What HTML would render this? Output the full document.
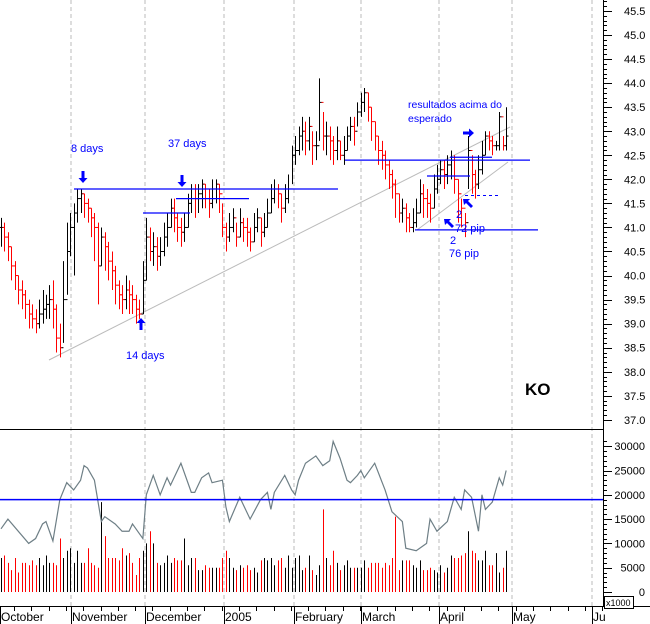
<!DOCTYPE html>
<html><head><meta charset="utf-8"><style>
html,body{margin:0;padding:0;background:#fff}
svg{display:block;font-family:"Liberation Sans",sans-serif}
</style></head><body>
<svg id="c" width="650" height="624" viewBox="0 0 650 624"></svg>
<script>
const closes=[41.0,40.8,40.6,40.2,40.0,39.7,39.6,39.4,39.2,39.1,39.0,39.2,39.3,39.4,39.5,39.3,38.7,38.5,39.5,40.5,41.0,
41.3,41.6,41.7,41.5,41.4,41.2,41.0,40.2,40.8,40.6,40.3,40.1,39.8,39.6,39.5,39.7,39.6,39.5,39.3,39.2,39.9,
40.8,40.5,40.6,40.4,40.5,40.8,41.0,41.4,41.2,41.0,40.9,41.0,41.5,41.8,41.6,41.7,41.9,41.8,41.5,41.8,41.9,41.7,
41.0,40.8,41.0,41.2,40.8,41.1,41.0,40.9,40.7,41.0,41.2,40.9,41.0,41.3,41.6,41.8,41.7,41.4,41.6,41.8,
42.5,42.6,42.9,43.0,42.8,43.1,42.7,42.7,43.6,42.9,42.9,42.8,42.6,42.8,42.5,42.6,42.9,43.1,43.0,
43.4,43.6,43.8,43.5,43.2,42.9,42.6,42.5,42.3,42.1,41.9,41.7,41.3,41.4,41.2,41.0,41.1,41.3,41.7,41.6,41.5,41.4,
41.8,42.0,42.2,42.1,42.3,42.4,42.0,41.7,41.4,41.1,42.6,42.1,41.9,42.2,42.5,42.9,42.8,42.7,42.7,43.3,42.7,42.9];
const highs=[41.2,41.1,40.9,40.6,40.3,40.0,39.9,39.7,39.5,39.4,39.3,39.5,39.7,39.6,39.8,39.9,39.4,39.0,40.3,41.1,41.3,
41.5,41.8,41.8,41.7,41.6,41.4,41.3,41.1,41.0,40.9,40.7,40.5,40.2,39.9,39.8,40.0,39.9,39.8,39.6,39.5,40.3,
41.2,41.0,40.9,40.8,40.8,41.1,41.3,41.6,41.6,41.3,41.2,41.3,41.7,41.9,41.9,41.9,42.0,41.9,41.8,42.0,42.0,41.9,
41.5,41.1,41.3,41.4,41.1,41.4,41.2,41.2,41.0,41.3,41.4,41.2,41.3,41.6,41.9,42.0,41.9,41.7,41.9,42.1,
42.7,42.9,43.1,43.3,43.2,43.3,43.0,43.0,44.1,43.4,43.2,43.1,42.9,43.1,42.8,42.9,43.1,43.3,43.3,
43.6,43.8,43.9,43.8,43.5,43.2,42.9,42.8,42.6,42.4,42.2,42.0,41.7,41.6,41.5,41.3,41.4,41.6,42.0,41.9,41.8,41.7,
42.1,42.3,42.4,42.4,42.5,42.6,42.5,42.0,41.6,41.3,42.9,42.5,42.2,42.5,42.8,43.0,43.0,42.9,42.8,43.4,42.9,43.5];
const lows=[40.6,40.5,40.3,39.9,39.7,39.4,39.3,39.1,38.9,38.9,38.8,38.9,39.0,39.1,39.1,38.9,38.4,38.3,38.6,39.6,40.4,
40.0,41.1,41.3,41.2,41.1,40.8,40.3,39.4,40.2,40.1,39.9,39.7,39.4,39.3,39.2,39.3,39.2,39.2,39.0,39.1,39.2,
39.9,40.3,40.2,40.1,40.2,40.4,40.6,41.0,40.9,40.7,40.6,40.7,41.0,41.3,41.2,41.3,41.4,41.4,41.2,41.4,41.5,41.3,
40.8,40.5,40.7,40.9,40.6,40.8,40.7,40.6,40.5,40.7,40.9,40.6,40.8,41.0,41.3,41.5,41.4,41.1,41.3,41.5,
41.9,42.3,42.5,42.6,42.5,42.6,42.3,42.4,42.8,42.6,42.5,42.4,42.3,42.4,42.4,42.3,42.6,42.8,42.7,
43.1,43.3,43.4,43.2,42.8,42.6,42.3,42.2,42.0,41.8,41.6,41.2,41.1,41.1,40.9,40.9,40.9,41.0,41.3,41.2,41.2,41.1,
41.4,41.7,41.9,41.8,41.9,42.0,41.7,41.1,41.0,40.8,41.8,41.7,41.6,41.8,42.1,42.5,42.6,42.5,42.6,42.6,42.6,42.6];
const volumes=[7,7.5,6,4.5,7,4,6,6,5.5,6.5,5.5,7,5.5,7.5,6,6,5.5,11,7,8.5,9,
6,8.5,6,6,9,6,5.5,5,18.5,11.5,7,7,7,6.5,9,7.5,8,6,3.5,7,8.5,
10,12.5,10,6,5.5,6,7.5,6,7,6.5,6.5,11,5.5,7,7,4.5,4.5,5.5,5,5,5,5,
7,8.5,7,5,4.5,5.5,5,5.5,4.5,5,4,6.5,7,6.5,7,5.5,6.5,7,5,7.5,
5,7,7.5,4.5,5,7.5,4.5,3.5,5.5,17,7,5.5,8.5,6,4.5,5.5,6.5,5,5,
5,5,6.5,5,6,6,6,5,6,5.5,7,15.5,4.5,6.5,6.5,6.5,5.5,5,6.5,4.5,4.5,5,
4.5,4,5.5,4,5,7.5,7,7,7.5,8,12.5,8.5,8,6.5,6.5,8.5,5.5,5.5,8,4,5,8.5];
const lineIdx=[0,2,8,10,12,13,15,17,19,21,23,24,25,27,29,30,33,35,37,38,41,42,44,46,48,49,52,55,56,58,60,61,64,65,66,69,72,75,77,78,79,82,84,85,86,88,91,93,95,96,98,100,101,103,104,105,108,111,113,116,117,120,123,124,126,129,131,133,134,136,138,139,140,142,144,145,146];
const lineVal=[13,15,10,11,14,14.5,10.5,19,22.5,21,23,26,25.5,23,14.5,15.5,14,12.5,12.5,14,11,20,24,20,23.5,22,26.5,20.5,20.5,23.5,24.5,22.5,23,17.5,14.5,19.5,15,19,20.5,17,20.5,24,21,20,23,26.5,28,26,27,31,27.5,23,22.5,24,25,23.5,26.5,21,16.5,14.5,9,8.5,10,15,12.5,14.5,19.5,17,21,19.5,12.5,20,17,18.5,23.5,22,25];
const priceTicks=[45.5,45.0,44.5,44.0,43.5,43.0,42.5,42.0,41.5,41.0,40.5,40.0,39.5,39.0,38.5,38.0,37.5,37.0];
const volTicks=[0,5000,10000,15000,20000,25000,30000];
const months=["October","November","December","2005","February","March","April","May","Ju"];
const monthX=[0,71,145,224,294,361,439,512,592];

const NS="http://www.w3.org/2000/svg";const svg=document.getElementById('c');
function el(t,a,p){const e=document.createElementNS(NS,t);for(const k in a)e.setAttribute(k,a[k]);(p||svg).appendChild(e);return e;}
const x=i=>1+i*3.46;
const yP=p=>11+(45.5-p)*48.1;
const yV=v=>592-v*4.86;
monthX.slice(1).forEach(mx=>{const g=el('line',{x1:mx,x2:mx,y1:0,y2:606,stroke:'#bbb','stroke-dasharray':'4,3'});

});
el('line',{x1:603.5,x2:603.5,y1:0,y2:606,stroke:'#000'});
el('line',{x1:0,x2:603,y1:429.5,y2:429.5,stroke:'#000'});
el('line',{x1:0,x2:650,y1:606.5,y2:606.5,stroke:'#000'});
for(let p=37;p<=45.9;p+=0.1){const yy=Math.round(yP(p))+0.5;el('line',{x1:603,x2:(Math.round(p*10)%5==0)?612:607,y1:yy,y2:yy,stroke:'#000'});}
priceTicks.forEach(p=>{const t=el('text',{x:624,y:yP(p)+4,'font-size':11});t.textContent=p.toFixed(1);

});
for(let v=0;v<=31;v+=1){const yy=Math.round(yV(v))+0.5;el('line',{x1:603,x2:(v%5==0)?612:607,y1:yy,y2:yy,stroke:'#000'});}
volTicks.forEach(v=>{const t=el('text',{x:645,y:yV(v/1000)+4,'font-size':11,'text-anchor':'end'});t.textContent=v;

});
el('rect',{x:604.5,y:596.5,width:29,height:12,fill:'#fff',stroke:'#000'});
const xk=el('text',{x:606,y:606,'font-size':9});xk.textContent='x1000';
months.forEach((m,i)=>{el('line',{x1:monthX[i]+0.5,x2:monthX[i]+0.5,y1:606,y2:624,stroke:'#000'});
const t=el('text',{x:monthX[i]+1,y:621,'font-size':12});t.textContent=m;

});
for(let wx=14;wx<603;wx+=17.3){el('line',{x1:Math.round(wx)+0.5,x2:Math.round(wx)+0.5,y1:606,y2:611,stroke:'#000'});}
el('line',{x1:49,y1:360,x2:510,y2:127,stroke:'#bbb'});
el('line',{x1:417,y1:230,x2:508,y2:162,stroke:'#bbb'});
const colors=closes.map((c,i)=>i==0||c>=closes[i-1]?'#000':'#f00');
closes.forEach((c,i)=>{
 const xx=Math.round(x(i))+0.5,col=colors[i];
 const v=el('line',{x1:xx,x2:xx,y1:yV(volumes[i]),y2:592,stroke:col});
 
 
 const g=el('g',{stroke:col,'stroke-width':1});
 
 
 el('line',{x1:xx,x2:xx,y1:yP(highs[i]),y2:yP(lows[i])},g);
 const o=i?closes[i-1]:c;
 el('line',{x1:xx-2,x2:xx,y1:yP(o),y2:yP(o)},g);
 el('line',{x1:xx,x2:xx+2,y1:yP(c),y2:yP(c)},g);
});
const pl=el('polyline',{points:lineIdx.map((k,j)=>x(k)+','+yV(lineVal[j])).join(' '),fill:'none',stroke:'#6e7f86','stroke-width':1.2});


el('line',{x1:0,x2:603,y1:yV(19),y2:yV(19),stroke:'#00f','stroke-width':1.5});
const B='#00f';
[[74,338,41.8],[143,190,41.3],[176,249,41.6],[345,530,42.4],[427,470,42.07],[450,492,42.46],[415,538,40.95]].forEach(a=>{
 const l=el('line',{x1:a[0],x2:a[1],y1:yP(a[2]),y2:yP(a[2]),stroke:B,'stroke-width':1.3});
 
 });
el('line',{x1:465,x2:500,y1:195.5,y2:195.5,stroke:B,'stroke-dasharray':'3,3'});
function arrowDown(cx,ty){el('path',{d:`M${cx-1.5} ${ty}h3v7h3l-4.5 5l-4.5-5h3z`,fill:B});}
arrowDown(83,171);arrowDown(182,175);
el('path',{d:`M141 318l4.5 5h-3v7h-3v-7h-3z`,fill:B});
el('path',{d:`M463 131.5h6v-3l5 4.5l-5 4.5v-3h-6z`,fill:B});
function arrowUL(ax,ay){el('path',{d:`M${ax} ${ay}l7 0l-2 2l5 5l-2 2l-5-5l-2 2z`,fill:B});}
arrowUL(463,199);arrowUL(444,219);
function txt(s,xx,yy,sz,extra){const t=el('text',Object.assign({x:xx,y:yy,'font-size':sz||11,fill:B},extra||{}));t.textContent=s;

return t;}
txt('8 days',71,152);txt('37 days',168,147);txt('14 days',126,359);
txt('resultados acima do',408,108,10.5);txt('esperado',408,122,10.5);
txt('2',456,218);txt('72 pip',455,232);txt('2',450,244);txt('76 pip',449,257);
const ko=txt('KO',525,395,17,{fill:'#000','font-weight':'bold'});

</script>
</body></html>
